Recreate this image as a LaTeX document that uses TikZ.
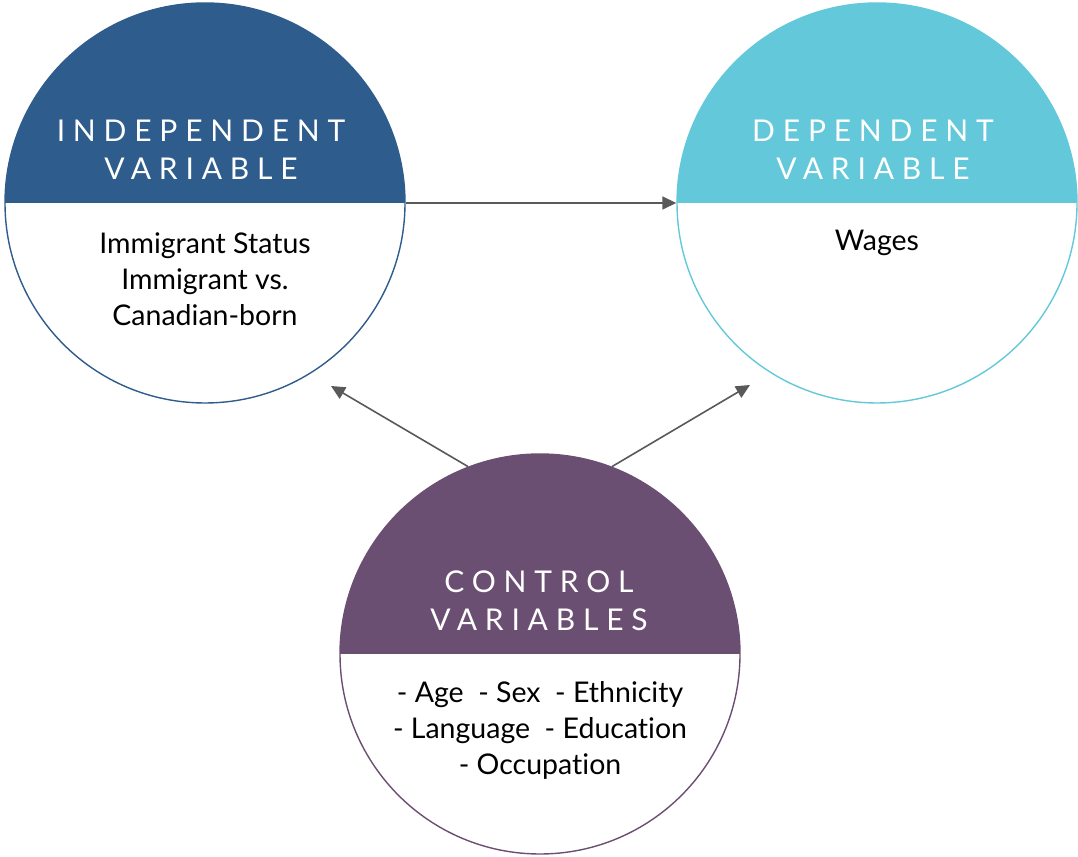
\documentclass[tikz,border=0pt]{standalone}
\usepackage{fontspec}
\setmainfont{Lato}[Ligatures={NoCommon,NoContextual}]
\usetikzlibrary{arrows.meta}
\definecolor{indblue}{HTML}{2E5C8C}
\definecolor{depcyan}{HTML}{63C9DA}
\definecolor{ctlpurple}{HTML}{6B4F72}
\definecolor{arrowgrey}{HTML}{595959}
\begin{document}
\begin{tikzpicture}[x=1pt,y=1pt,
  varcircle/.style={circle, draw=#1, line width=1.4pt, minimum size=400pt, inner sep=0pt,
    path picture={\fill[#1] (path picture bounding box.west) rectangle (path picture bounding box.north east);}},
  headtext/.style={align=center, text=white, font=\fontsize{30}{38.5}\selectfont\addfontfeature{LetterSpace=26}},
  bodytext/.style={align=center, text=black, font=\fontsize{28.5}{36}\selectfont},
  link/.style={draw=arrowgrey, line width=1.6pt, -{Triangle[length=14pt,width=13pt]}}
]
\useasboundingbox (0,0) rectangle (1078,856);

% the three variable circles
\node[varcircle=indblue] (L) at (205,653) {};
\node[varcircle=depcyan] (R) at (877,653) {};
\node[varcircle=ctlpurple] (C) at (540,202) {};

% headings
\node[headtext] (Lh) at (201,706) {INDEPENDENT\\VARIABLE};
\node[headtext] (Rh) at (873,706) {DEPENDENT\\VARIABLE};
\node[headtext] (Ch) at (539,255) {CONTROL\\VARIABLES};

% contents
\node[bodytext] (Lb) at (205,577) {Immigrant Status\\Immigrant vs.\\Canadian-born};
\node[bodytext] (Rb) at (877,613) {Wages};
\node[bodytext] (Cb) at (540,126) {- Age\ \ - Sex\ \ - Ethnicity\\- Language\ \ - Education\\- Occupation};

% arrow tips for the control links
\coordinate (Ltip) at (331,470);
\coordinate (Rtip) at (750,471);

% links
\draw[link] (L.east) -- (R.west);
\draw[link] (C.111) -- (Ltip);
\draw[link] (C.69) -- (Rtip);
\end{tikzpicture}
\end{document}
